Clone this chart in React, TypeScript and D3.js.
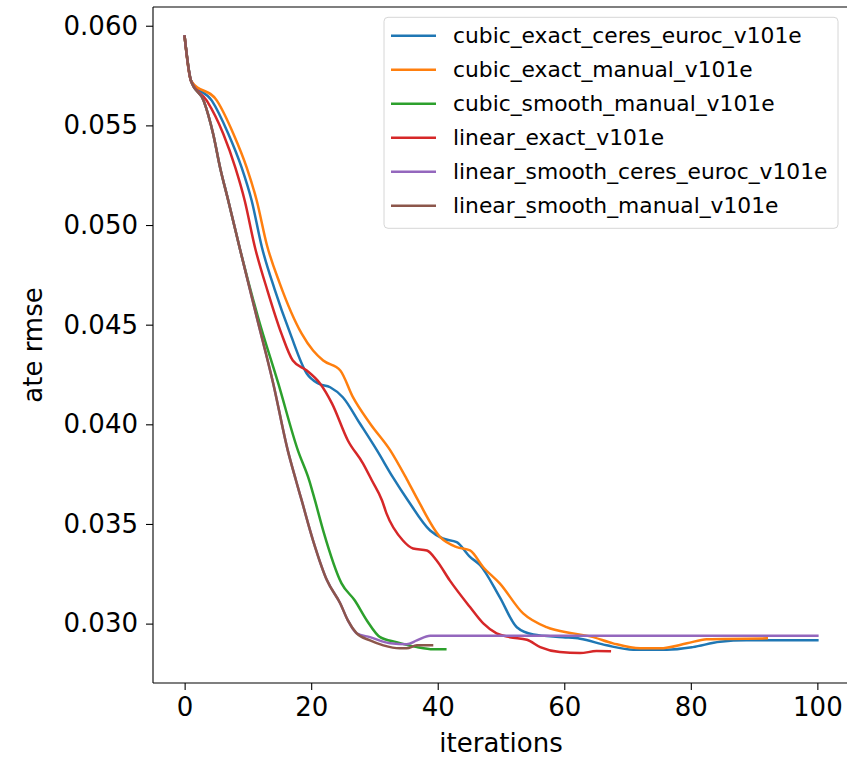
import React, { useEffect, useRef } from "react";
import * as d3 from "d3";

type Pt = [number, number];

// [iteration, ate rmse]
const cubicExactCeres: Pt[] = [
  [0, 0.05945], [1, 0.05724], [4.3, 0.05624], [6.9, 0.05458], [9.0, 0.05289],
  [10.6, 0.05122], [12.2, 0.0489], [14.2, 0.0468], [16.7, 0.04455], [19.3, 0.04255], [21.1, 0.04205],
  [23.0, 0.04186], [25.0, 0.04136], [27.7, 0.04004], [30.4, 0.03869], [32.9, 0.03735],
  [35.3, 0.03618], [38.8, 0.03467], [40.8, 0.03427], [43.0, 0.03409], [45.1, 0.03335],
  [46.7, 0.03293], [49.8, 0.03133], [52.5, 0.02982], [55.1, 0.02946], [59.8, 0.02932],
  [62.5, 0.02924], [66.7, 0.02891], [70.9, 0.02869], [76.2, 0.02869], [80.3, 0.02882],
  [84.6, 0.02909], [88.8, 0.02916], [100, 0.02916],
];

const cubicExactManual: Pt[] = [
  [0, 0.05945], [1, 0.05724], [5.1, 0.05624], [7.7, 0.05458], [9.8, 0.05289],
  [11.4, 0.05122], [13.0, 0.049], [15.0, 0.0471], [18.5, 0.04455], [20.3, 0.0437], [21.9, 0.0432],
  [24.6, 0.0427], [26.6, 0.04136], [29.3, 0.04004], [32.5, 0.03869], [35.1, 0.03725],
  [36.9, 0.03618], [40.4, 0.03434], [43.0, 0.03384], [45.1, 0.03367], [47.2, 0.03283],
  [49.8, 0.03202], [53.5, 0.03051], [57.2, 0.02982], [61.4, 0.02951], [64.1, 0.02936],
  [67.7, 0.02901], [72.0, 0.02876], [75.1, 0.02876], [79.4, 0.02901], [82.5, 0.02922],
  [92, 0.02926],
];

const cubicSmoothManual: Pt[] = [
  [0, 0.05945], [1, 0.05724], [3.0, 0.05624], [4.5, 0.05458], [5.6, 0.05289],
  [6.9, 0.05122], [8.8, 0.04872], [11.6, 0.04537], [14.8, 0.04205], [17.9, 0.03869],
  [19.7, 0.03718], [20.6, 0.03618], [21.9, 0.03467], [24.8, 0.03202], [26.9, 0.03116],
  [28.8, 0.03016], [30.9, 0.02932], [33.5, 0.02907], [36.7, 0.02882], [39.3, 0.02871],
  [41.2, 0.02871],
];

const linearExact: Pt[] = [
  [0, 0.05945], [1, 0.05724], [3.5, 0.05624], [6.1, 0.05458], [8.0, 0.05289],
  [9.5, 0.05122], [11.1, 0.0489], [13.1, 0.0467], [15.3, 0.04455], [17.1, 0.0432], [19.3, 0.0427],
  [21.4, 0.04205], [23.3, 0.04104], [25.8, 0.03919], [28.2, 0.03803], [29.6, 0.03718],
  [31.2, 0.03618], [31.9, 0.03553], [34.5, 0.03417], [36.1, 0.03377], [38.3, 0.03367],
  [39.8, 0.03318], [41.9, 0.03217], [45.1, 0.03083], [47.2, 0.03001], [49.3, 0.02951],
  [51.4, 0.02932], [54.1, 0.02919], [56.2, 0.02882], [59.3, 0.02857], [62.5, 0.02852],
  [65.1, 0.02862], [67.2, 0.02861],
];

const linearSmoothCeres: Pt[] = [
  [0, 0.05945], [1, 0.05724], [3.0, 0.05624], [4.5, 0.05458], [5.6, 0.05289],
  [6.9, 0.05122], [8.8, 0.04872], [11.4, 0.04537], [14.0, 0.04205], [16.3, 0.03869],
  [17.6, 0.03718], [18.5, 0.03618], [20.3, 0.03417], [22.5, 0.03217], [24.6, 0.03101],
  [25.8, 0.03016], [27.2, 0.02951], [29.3, 0.02932], [32.5, 0.02901], [35.1, 0.02896],
  [36.7, 0.02916], [38.8, 0.02939], [100, 0.02939],
];

const linearSmoothManual: Pt[] = [
  [0, 0.05945], [1, 0.05724], [3.0, 0.05624], [4.5, 0.05458], [5.6, 0.05289],
  [6.9, 0.05122], [8.8, 0.04872], [11.4, 0.04537], [14.0, 0.04205], [16.3, 0.03869],
  [17.6, 0.03718], [18.5, 0.03618], [20.3, 0.03417], [22.5, 0.03217], [24.6, 0.03101],
  [25.8, 0.03016], [27.2, 0.02951], [29.3, 0.02916], [31.4, 0.02891], [34.0, 0.02876],
  [35.1, 0.02876], [36.7, 0.02891], [39.1, 0.02891],
];

const seriesNames = [
  "cubic_exact_ceres_euroc_v101e",
  "cubic_exact_manual_v101e",
  "cubic_smooth_manual_v101e",
  "linear_exact_v101e",
  "linear_smooth_ceres_euroc_v101e",
  "linear_smooth_manual_v101e",
];
const seriesData = [
  cubicExactCeres,
  cubicExactManual,
  cubicSmoothManual,
  linearExact,
  linearSmoothCeres,
  linearSmoothManual,
];
const colors = ["#1f77b4", "#ff7f0e", "#2ca02c", "#d62728", "#9467bd", "#8c564b"];

const xTicks = [0, 20, 40, 60, 80, 100];
const yTicks = [0.03, 0.035, 0.04, 0.045, 0.05, 0.055, 0.06];

const W = 847;
const H = 759;

export default function App() {
  const svgRef = useRef<SVGSVGElement>(null);

  useEffect(() => {
    document.body.style.margin = "0";
    const svg = d3.select(svgRef.current);
    svg.selectAll("*").remove();

    const font = "DejaVu Sans, sans-serif";
    const left = 153, right = 849, top = 7, bottom = 683;

    const x = d3.scaleLinear().domain([-5, 105]).range([left, right]);
    const y = d3.scaleLinear().domain([0.02702, 0.06094]).range([bottom, top]);

    svg.append("rect").attr("width", W).attr("height", H).attr("fill", "#fff");

    // lines
    const line = d3
      .line<Pt>()
      .x((d) => x(d[0]))
      .y((d) => y(d[1]))
      .curve(d3.curveMonotoneX);

    seriesData.forEach((s, i) => {
      svg
        .append("path")
        .attr("d", line(s))
        .attr("fill", "none")
        .attr("stroke", colors[i])
        .attr("stroke-width", 2.5)
        .attr("stroke-linejoin", "round")
        .attr("stroke-linecap", "square");
    });

    // axes
    const xAxis = svg
      .append("g")
      .attr("transform", `translate(0,${bottom})`)
      .call(d3.axisBottom(x).tickValues(xTicks).tickSize(7).tickPadding(8).tickFormat(d3.format("d")));
    const yAxis = svg
      .append("g")
      .attr("transform", `translate(${left},0)`)
      .call(d3.axisLeft(y).tickValues(yTicks).tickSize(7).tickPadding(8).tickFormat(d3.format(".3f")));

    [xAxis, yAxis].forEach((g) => {
      g.select(".domain").remove();
      g.selectAll(".tick line").attr("stroke", "#000").attr("stroke-width", 1.1);
      g.selectAll(".tick text")
        .attr("fill", "#000")
        .style("font-family", font)
        .style("font-size", "26px");
    });

    // spines
    const spine = svg.append("g").attr("stroke", "#000").attr("stroke-width", 1.1).attr("fill", "none");
    spine.append("line").attr("x1", left).attr("x2", left).attr("y1", top).attr("y2", bottom);
    spine.append("line").attr("x1", left).attr("x2", right).attr("y1", bottom).attr("y2", bottom);
    spine.append("line").attr("x1", left).attr("x2", right).attr("y1", top).attr("y2", top);
    spine.append("line").attr("x1", right).attr("x2", right).attr("y1", top).attr("y2", bottom);

    // axis labels
    svg
      .append("text")
      .attr("x", (left + right) / 2)
      .attr("y", 752)
      .attr("text-anchor", "middle")
      .style("font-family", font)
      .style("font-size", "26px")
      .text("iterations");
    svg
      .append("text")
      .attr("transform", `translate(42,${(top + bottom) / 2}) rotate(-90)`)
      .attr("text-anchor", "middle")
      .style("font-family", font)
      .style("font-size", "26px")
      .text("ate rmse");

    // legend
    const lg = svg.append("g");
    lg.append("rect")
      .attr("x", 384)
      .attr("y", 17.3)
      .attr("width", 454)
      .attr("height", 211)
      .attr("rx", 4)
      .attr("fill", "#fff")
      .attr("fill-opacity", 0.8)
      .attr("stroke", "#d6d6d6")
      .attr("stroke-width", 1);
    seriesNames.forEach((name, i) => {
      const cy = 35.7 + i * 34;
      lg.append("line")
        .attr("x1", 391)
        .attr("x2", 436)
        .attr("y1", cy)
        .attr("y2", cy)
        .attr("stroke", colors[i])
        .attr("stroke-width", 2.5);
      lg.append("text")
        .attr("x", 453)
        .attr("y", cy + 7.5)
        .style("font-family", font)
        .style("font-size", "21.8px")
        .attr("fill", "#000")
        .text(name);
    });
  }, []);

  return <svg ref={svgRef} width={W} height={H} style={{ display: "block" }} />;
}
